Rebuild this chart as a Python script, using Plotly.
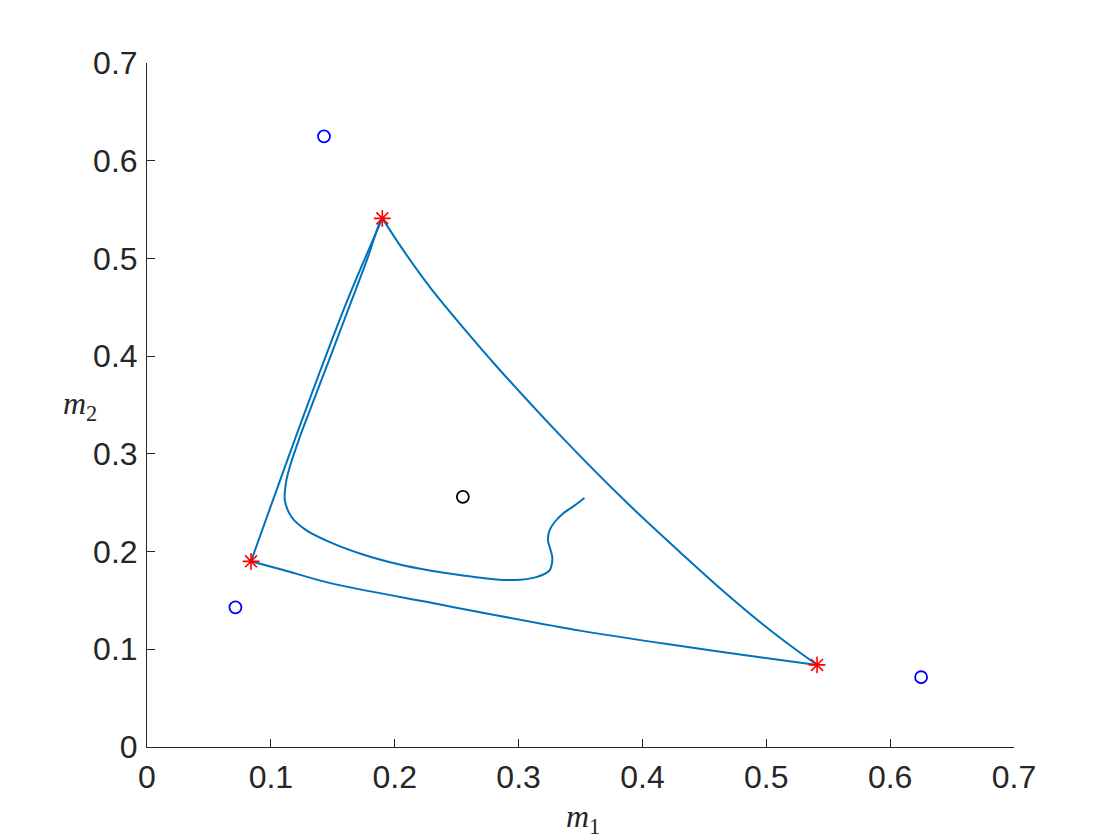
import plotly.graph_objects as go

# Trajectory, split into its four legs (drawing order)
# Leg A: inner spiral from the start point up to the top equilibrium
spiral_m1 = [0.3532, 0.3450, 0.3357, 0.3290, 0.3250, 0.3237, 0.3255, 0.3272, 0.3268, 0.3250,
             0.3143, 0.3008, 0.2820, 0.2551, 0.2282, 0.2014, 0.1744, 0.1476, 0.1288, 0.1167,
             0.1113, 0.1121, 0.1153, 0.1225, 0.1285, 0.1470, 0.1654, 0.1780, 0.1880, 0.1900]
spiral_m2 = [0.2549, 0.2470, 0.2388, 0.2300, 0.2217, 0.2114, 0.2030, 0.1943, 0.1870, 0.1806,
             0.1738, 0.1711, 0.1714, 0.1755, 0.1806, 0.1875, 0.1970, 0.2097, 0.2217, 0.2354,
             0.2525, 0.2696, 0.2867, 0.3141, 0.3346, 0.3960, 0.4575, 0.5000, 0.5370, 0.5410]
# Leg B: top equilibrium -> right equilibrium
right_m1 = [0.1900, 0.2066, 0.2295, 0.2568, 0.2818, 0.3367, 0.3890, 0.4313, 0.4633, 0.4971, 0.5210, 0.5410]
right_m2 = [0.5410, 0.5090, 0.4688, 0.4268, 0.3902, 0.3148, 0.2481, 0.1983, 0.1617, 0.1256, 0.1023, 0.0840]
# Leg C: right equilibrium -> left equilibrium
bottom_m1 = [0.5410, 0.4948, 0.4200, 0.3496, 0.2689, 0.2286, 0.1479, 0.1100, 0.0840]
bottom_m2 = [0.0840, 0.0918, 0.1053, 0.1191, 0.1379, 0.1478, 0.1677, 0.1812, 0.1900]
# Leg D: left equilibrium -> top equilibrium
left_m1 = [0.0840, 0.1251, 0.1619, 0.1900]
left_m2 = [0.1900, 0.3346, 0.4575, 0.5410]

# Equilibria (red asterisks)
star_m1 = [0.190, 0.084, 0.541]
star_m2 = [0.541, 0.190, 0.084]

# Blue open circles
blue_m1 = [0.0714, 0.1429, 0.625]
blue_m2 = [0.1429, 0.625, 0.0714]

# Black open circle
black_m1 = [0.255]
black_m2 = [0.256]

tick_vals = [0, 0.1, 0.2, 0.3, 0.4, 0.5, 0.6, 0.7]
tick_text = ["0", "0.1", "0.2", "0.3", "0.4", "0.5", "0.6", "0.7"]

fig = go.Figure()
for lx, ly in [(spiral_m1, spiral_m2), (right_m1, right_m2),
               (bottom_m1, bottom_m2), (left_m1, left_m2)]:
    fig.add_trace(go.Scatter(x=lx, y=ly, mode="lines",
                             line=dict(color="#0072BD", width=2, shape="spline", smoothing=0.8),
                             hoverinfo="skip"))
fig.add_trace(go.Scatter(x=star_m1, y=star_m2, mode="markers",
                         marker=dict(symbol="asterisk-open", size=14, color="#FF0000",
                                     line=dict(color="#FF0000", width=1.6))))
fig.add_trace(go.Scatter(x=blue_m1, y=blue_m2, mode="markers",
                         marker=dict(symbol="circle-open", size=12, color="#0000FF",
                                     line=dict(color="#0000FF", width=1.8))))
fig.add_trace(go.Scatter(x=black_m1, y=black_m2, mode="markers",
                         marker=dict(symbol="circle-open", size=12, color="#000000",
                                     line=dict(color="#000000", width=1.8))))

axis_common = dict(range=[0, 0.7], tickvals=tick_vals, ticktext=tick_text,
                   showgrid=False, zeroline=False, showline=True,
                   linecolor="#262626", linewidth=1, ticks="inside",
                   ticklen=8, tickwidth=1, tickcolor="#262626",
                   tickfont=dict(family="Liberation Sans, Arial", size=32, color="#262626"),
                   mirror=False)

fig.update_layout(
    width=1112, height=832,
    margin=dict(l=139, r=106, t=55, b=93, pad=0),
    paper_bgcolor="white", plot_bgcolor="white",
    showlegend=False,
    xaxis=dict(**axis_common, ticklabelstandoff=2),
    yaxis=dict(**axis_common, ticklabelstandoff=2),
    annotations=[
        dict(text="<i>m</i><sub>1</sub>", xref="paper", yref="paper",
             x=0.503, y=-0.104, xanchor="center", yanchor="middle", showarrow=False,
             font=dict(family="Liberation Serif, DejaVu Serif", size=32, color="#262626")),
        dict(text="<i>m</i><sub>2</sub>", xref="paper", yref="paper",
             x=-0.077, y=0.5, xanchor="center", yanchor="middle", showarrow=False,
             font=dict(family="Liberation Serif, DejaVu Serif", size=32, color="#262626")),
    ],
)

fig.write_html("out.html")
